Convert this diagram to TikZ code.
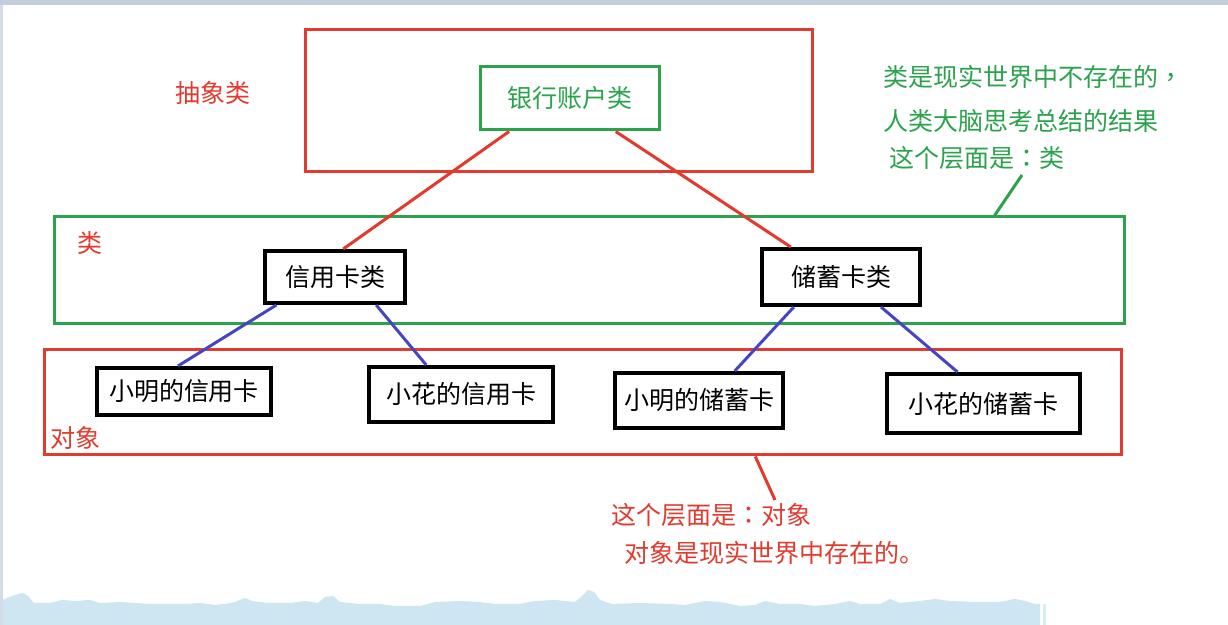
\documentclass[tikz,border=0pt]{standalone}
\usepackage{fontspec}
\setmainfont{Noto Sans CJK SC}
\newfontfamily\tcfont{Noto Sans CJK TC}
\usetikzlibrary{calc}
\definecolor{cred}{HTML}{E23A2E}
\definecolor{cgreen}{HTML}{2BA24C}
\definecolor{cblue}{HTML}{4646C0}
\definecolor{cwave}{HTML}{CDE6F2}
\definecolor{cbar}{HTML}{C3CDDD}
\begin{document}
\begin{tikzpicture}[x=0.5pt,y=-0.5pt,
  every node/.style={font=\fontsize{12.5pt}{15pt}\selectfont, inner sep=0pt},
  greenbox/.style={draw=cgreen, line width=1.5pt},
  blackbox/.style={draw=black, line width=2pt},
  redline/.style={draw=cred, line width=1.5pt},
  greenline/.style={draw=cgreen, line width=1.5pt},
  blueline/.style={draw=cblue, line width=1.5pt},
  redtext/.style={text=cred, anchor=west},
  greentext/.style={text=cgreen, anchor=west}]
\useasboundingbox (0,0) rectangle (1228,625);
\fill[white] (0,0) rectangle (1228,625);
% screen frame
\fill[cbar] (0,0) rectangle (1228,5);
\fill[cbar!70] (0,5) rectangle (2.5,625);
% bottom wave
\fill[cwave] (2.5,625) -- (2.5,600) -- (12,596) -- (22,593) -- (28,596) -- (34,603) -- (50,603) -- (62,600) -- (75,601) -- (90,600) -- (100,603) -- (120,602) -- (150,604) -- (185,604) -- (200,603) -- (215,605) -- (225,604) -- (235,602) -- (245,598) -- (252,601) -- (268,603) -- (290,603) -- (305,601) -- (318,603) -- (325,597) -- (333,596) -- (340,602) -- (360,604) -- (380,604) -- (395,606) -- (420,606) -- (435,602) -- (460,601) -- (480,602) -- (495,604) -- (520,604) -- (535,601) -- (555,600) -- (575,602) -- (582,596) -- (588,590) -- (594,592) -- (600,600) -- (612,604) -- (640,603) -- (670,604) -- (685,605) -- (705,601) -- (720,602) -- (740,606) -- (755,605) -- (765,601) -- (780,604) -- (800,604) -- (815,606) -- (835,604) -- (850,601) -- (860,604) -- (880,604) -- (890,599) -- (900,603) -- (920,601) -- (935,599) -- (950,601) -- (975,602) -- (1000,602) -- (1015,599) -- (1025,601) -- (1035,604) -- (1040,604) -- (1040,625) -- cycle;
\fill[cwave!80] (1043,604) rectangle (1046,625);
% boxes
\node[draw=cred, line width=1.5pt, minimum width=253.5pt, minimum height=71pt] (absbox) at (558.5,101) {};
\node[draw=cgreen, line width=1.5pt, minimum width=535pt, minimum height=53.5pt] (clsbox) at (589,270.5) {};
\node[draw=cred, line width=1.5pt, minimum width=538.5pt, minimum height=52.5pt] (objbox) at (582.5,402.5) {};
\node[greenbox, minimum width=89.5pt, minimum height=31.5pt, text=cgreen] (bank) at (569.5,98.5) {银行账户类};
\node[blackbox, minimum width=70pt, minimum height=26pt] (credit) at (335,277) {信用卡类};
\node[blackbox, minimum width=79pt, minimum height=28pt] (deposit) at (841,277) {储蓄卡类};
\node[blackbox, minimum width=87pt, minimum height=23.5pt] (o1) at (184,391.5) {小明的信用卡};
\node[blackbox, minimum width=92pt, minimum height=27.5pt] (o2) at (461,394.5) {小花的信用卡};
\node[blackbox, minimum width=84pt, minimum height=27.5pt] (o3) at (699,400.5) {小明的储蓄卡};
\node[blackbox, minimum width=96.5pt, minimum height=29.5pt] (o4) at (983.5,403.5) {小花的储蓄卡};
% labels
\node[redtext] (lababs) at (175,93) {抽象类};
\node[redtext] (labcls) at (77,243) {类};
\node[redtext] (labobj) at (50,438) {对象};
\node[greentext] (g1) at (883,77) {类是现实世界中不存在的{\tcfont ，}};
\node[greentext] (g2) at (883,121) {人类大脑思考总结的结果};
\node[greentext] (g3) at (889,158) {这个层面是{\tcfont ：}类};
\node[redtext] (r1) at (611,515) {这个层面是{\tcfont ：}对象};
\node[redtext] (r2) at (624,553) {对象是现实世界中存在的。};
% connectors
\draw[redline] ($(bank.south west)!0.168!(bank.south east)$) -- ($(credit.north west)!0.557!(credit.north east)$);
\draw[redline] ($(bank.south west)!0.754!(bank.south east)$) -- ($(deposit.north west)!0.19!(deposit.north east)$);
\draw[blueline] ($(credit.south west)!0.093!(credit.south east)$) -- ($(o1.north west)!0.466!(o1.north east)$);
\draw[blueline] ($(credit.south west)!0.786!(credit.south east)$) -- ($(o2.north west)!0.315!(o2.north east)$);
\draw[blueline] ($(deposit.south west)!0.209!(deposit.south east)$) -- ($(o3.north west)!0.708!(o3.north east)$);
\draw[blueline] ($(deposit.south west)!0.747!(deposit.south east)$) -- ($(o4.north west)!0.368!(o4.north east)$);
\coordinate (gend) at (1022,175);
\coordinate (rend) at (775,500);
\draw[greenline] ($(clsbox.north west)!0.878!(clsbox.north east)$) -- (gend);
\draw[redline] ($(objbox.south west)!0.66!(objbox.south east)$) -- (rend);
\end{tikzpicture}
\end{document}
